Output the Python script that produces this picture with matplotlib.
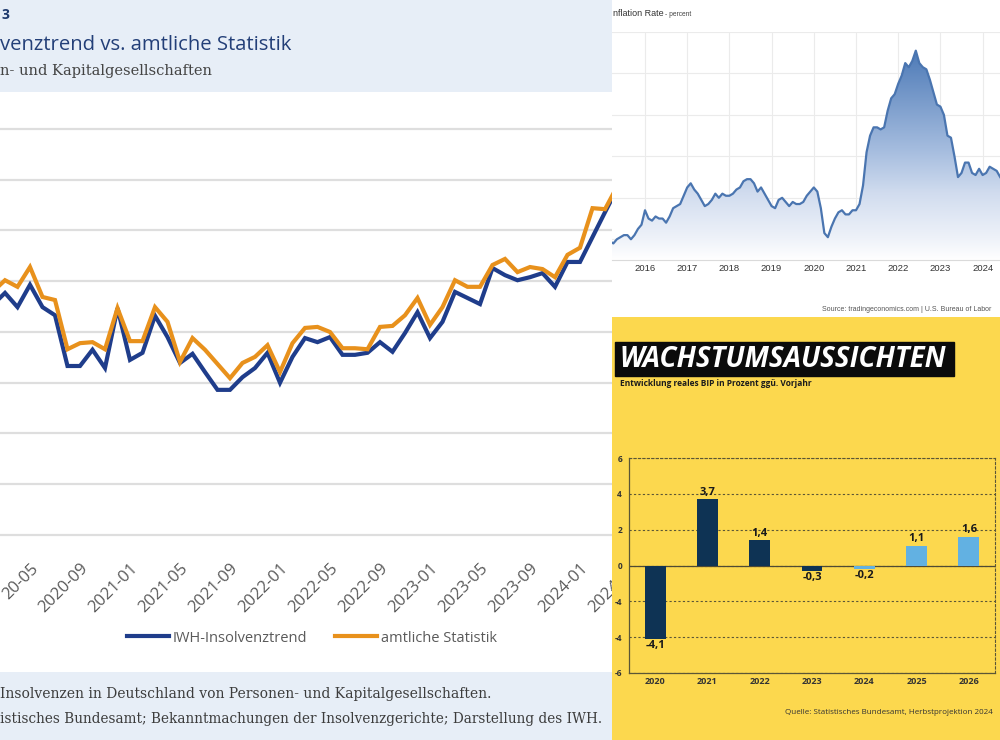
import numpy as np
import matplotlib
matplotlib.use('Agg')
import matplotlib.pyplot as plt
from matplotlib.patches import Rectangle
from matplotlib.colors import LinearSegmentedColormap

plt.rcParams['font.family'] = ['Open Sans', 'DejaVu Sans']

W, H = 1000, 740


def px_box(x0, y0, x1, y1):
    # Pixelbox (oben links = 0,0) -> Figure-Koordinaten
    return [x0 / W, 1 - y1 / H, (x1 - x0) / W, (y1 - y0) / H]


def fx(x):
    return x / W


def fy(y):
    return 1 - y / H


# IWH-Insolvenztrend vs. amtliche Statistik (Monat 1 = 2020-02)
iwh_monate = np.arange(1, 52)
iwh_trend = [853, 877, 849, 893, 849, 833, 733, 733, 765, 729, 847, 745, 759,
             832, 790, 739, 757, 721, 686, 686, 711, 729, 759, 700, 751, 788,
             780, 790, 755, 755, 759, 780, 761, 798, 839, 788, 820, 879, 867,
             855, 926, 912, 902, 908, 916, 889, 938, 938, 987, 1036, 1084]
amtlich = [879, 902, 889, 928, 869, 863, 766, 778, 780, 766, 847, 782, 782,
           849, 820, 741, 788, 765, 737, 709, 739, 751, 774, 721, 778, 808,
           810, 800, 768, 768, 766, 810, 812, 833, 867, 814, 849, 902, 889,
           889, 932, 944, 918, 928, 924, 908, 952, 966, 1044, 1042, 1088]
iwh_ticks = np.arange(4, 53, 4)
iwh_ticklabels = ['20-05', '2020-09', '2021-01', '2021-05', '2021-09',
                  '2022-01', '2022-05', '2022-09', '2023-01', '2023-05',
                  '2023-09', '2024-01', '2024-05']

# US Inflation Rate (monatlich ab 2015-01)
infl = [-0.1, 0.0, -0.1, -0.2, 0.0, 0.1, 0.2, 0.2, 0.0, 0.2, 0.5, 0.7,
        1.4, 1.0, 0.9, 1.1, 1.0, 1.0, 0.8, 1.1, 1.5, 1.6, 1.7, 2.1,
        2.5, 2.7, 2.4, 2.2, 1.9, 1.6, 1.7, 1.9, 2.2, 2.0, 2.2, 2.1,
        2.1, 2.2, 2.4, 2.5, 2.8, 2.9, 2.9, 2.7, 2.3, 2.5, 2.2, 1.9,
        1.6, 1.5, 1.9, 2.0, 1.8, 1.6, 1.8, 1.7, 1.7, 1.8, 2.1, 2.3,
        2.5, 2.3, 1.5, 0.3, 0.1, 0.6, 1.0, 1.3, 1.4, 1.2, 1.2, 1.4,
        1.4, 1.7, 2.6, 4.2, 5.0, 5.4, 5.4, 5.3, 5.4, 6.2, 6.8, 7.0,
        7.5, 7.9, 8.5, 8.3, 8.6, 9.1, 8.5, 8.3, 8.2, 7.7, 7.1, 6.5,
        6.4, 6.0, 5.0, 4.9, 4.0, 3.0, 3.2, 3.7, 3.7, 3.2, 3.1, 3.4,
        3.1, 3.2, 3.5, 3.4, 3.3, 3.0]
infl_zeit = 2015 + np.arange(len(infl)) / 12
infl_jahre = np.arange(2016, 2025)

# Wachstumsaussichten
bip_jahre = ['2020', '2021', '2022', '2023', '2024', '2025', '2026']
bip = [-4.1, 3.7, 1.4, -0.3, -0.2, 1.1, 1.6]
bip_yticks = [-6, -4, -2, 0, 2, 4, 6]
bip_yticklabels = ['-6', '-4', '-4', '0', '2', '4', '6']

fig = plt.figure(figsize=(10, 7.4), dpi=100)
fig.patch.set_facecolor('white')


def panel(x0, y0, x1, y1, color, z):
    ax = fig.add_axes(px_box(x0, y0, x1, y1), zorder=z)
    ax.set_facecolor(color)
    ax.set_xticks([])
    ax.set_yticks([])
    for s in ax.spines.values():
        s.set_visible(False)
    return ax


# ---------------- linkes Bild: IWH ----------------
ax1 = fig.add_axes(px_box(-30, 92, 650, 545), zorder=1)
ax1.set_xlim(-0.8, 53.6)
ax1.set_ylim(400 - 10 * 1.9704, 400 + 443 * 1.9704)
ax1.plot(iwh_monate, iwh_trend, color='#1f3d8b', lw=3, label='IWH-Insolvenztrend',
         solid_joinstyle='miter')
ax1.plot(iwh_monate, amtlich, color='#e8911c', lw=3, label='amtliche Statistik',
         solid_joinstyle='miter')
ax1.set_yticks(np.arange(400, 1300, 100))
ax1.yaxis.grid(True, color='#dedede', lw=1.6)
ax1.set_axisbelow(True)
for s in ax1.spines.values():
    s.set_visible(False)
ax1.tick_params(axis='y', left=False, labelleft=False)
ax1.set_xticks(iwh_ticks)
ax1.set_xticklabels(iwh_ticklabels)
ax1.tick_params(axis='x', length=0, pad=11, labelsize=12, labelcolor='#5a5a5a')
for lbl in ax1.get_xticklabels():
    lbl.set_rotation(45)
    lbl.set_ha('right')
    lbl.set_va('top')
    lbl.set_rotation_mode('anchor')

h, l = ax1.get_legend_handles_labels()
leg = fig.legend(h, l, loc='center', bbox_to_anchor=(fx(312), fy(638)), ncol=2,
                 frameon=False, fontsize=10.5, handlelength=2.9, handletextpad=0.25,
                 columnspacing=1.9)
for t in leg.get_texts():
    t.set_color('#5a5a5a')

kopf = panel(0, 0, 612, 92, '#e7eef7', 2)
fuss = panel(0, 672, 612, 740, '#e7eef7', 2)
fig.text(fx(1), fy(15), '3', color='#1f3a6e', fontsize=10, fontweight='bold',
         va='center', zorder=10)
fig.text(fx(0), fy(45), 'venztrend vs. amtliche Statistik', color='#233f78',
         fontsize=14.6, va='center', zorder=10)
fig.text(fx(0), fy(71), 'n- und Kapitalgesellschaften', color='#444444',
         family='DejaVu Serif', fontsize=10.5, va='center', zorder=10)
fig.text(fx(0), fy(694), 'Insolvenzen in Deutschland von Personen- und Kapitalgesellschaften.',
         color='#3c3c3c', family='DejaVu Serif', fontsize=10, va='center', zorder=10)
fig.text(fx(0), fy(719),
         'istisches Bundesamt; Bekanntmachungen der Insolvenzgerichte; Darstellung des IWH.',
         color='#3c3c3c', family='DejaVu Serif', fontsize=9.85, va='center', zorder=4)

# ---------------- rechts oben: Inflation ----------------
panel(612, 0, 1000, 318, 'white', 5)
ax2 = fig.add_axes(px_box(612, 32, 1000, 260), zorder=6)
ax2.set_facecolor('none')
x0, x1 = 2015.218, 2024.412
fill = ax2.fill_between(infl_zeit, infl, -1, color='none', lw=0)
cmap = LinearSegmentedColormap.from_list(
    'te', [(0.0, '#ffffff'), (0.1, '#eef2f9'), (0.3, '#d2ddef'),
           (0.5, '#a6bddf'), (1.0, '#4675b4')])
grad = np.linspace(0, 1, 256).reshape(-1, 1)
img = ax2.imshow(grad, extent=[x0, x1, -1, 9.5], origin='lower', aspect='auto',
                 cmap=cmap, zorder=1)
img.set_clip_path(fill.get_paths()[0], transform=ax2.transData)
ax2.plot(infl_zeit, infl, color='#4a75b0', lw=1.6, zorder=3)
ax2.set_xlim(x0, x1)
ax2.set_ylim(-1, 10)
ax2.set_xticks(infl_jahre)
ax2.set_yticks(np.arange(0, 11, 2))
ax2.grid(True, color='#ebebeb', lw=0.8)
ax2.set_axisbelow(True)
for s in ax2.spines.values():
    s.set_visible(False)
ax2.spines['bottom'].set_visible(True)
ax2.spines['bottom'].set_color('#dadada')
ax2.tick_params(axis='y', left=False, labelleft=False)
ax2.tick_params(axis='x', length=0, pad=3, labelsize=6.8, labelcolor='#333333')
for lbl in ax2.get_xticklabels():
    lbl.set_family(['Liberation Sans', 'DejaVu Sans'])
fig.text(fx(613), fy(13), 'nflation Rate', color='#333333', fontsize=6.5,
         family=['Liberation Sans', 'DejaVu Sans'], va='center', zorder=10)
fig.text(fx(665), fy(14), '- percent', color='#444444', fontsize=4.8,
         family=['Liberation Sans', 'DejaVu Sans'], va='center', zorder=10)
fig.text(fx(822), fy(309), 'Source: tradingeconomics.com | U.S. Bureau of Labor',
         color='#555555', fontsize=5, family=['Liberation Sans', 'DejaVu Sans'],
         va='center', zorder=10)

# ---------------- rechts unten: Wachstumsaussichten ----------------
panel(612, 317, 1000, 740, '#fcd84e', 5)
fig.patches.append(Rectangle((fx(615), fy(376)), (954 - 615) / W, (376 - 342) / H,
                             transform=fig.transFigure, color='#0b0b0b', zorder=8))
fig.text(fx(619), fy(359), 'WACHSTUMSAUSSICHTEN', color='white', fontsize=20,
         fontweight='bold', fontstyle='italic', va='center', zorder=11)
fig.text(fx(620), fy(383), 'Entwicklung reales BIP in Prozent ggü. Vorjahr',
         color='#1c1c1c', fontsize=6, fontweight='bold', va='center', zorder=11)

ax3 = fig.add_axes(px_box(629, 458, 995, 673), zorder=7)
ax3.set_facecolor('none')
farben = ['#0e3354'] * 4 + ['#62b1e2'] * 3
balken = ax3.bar(range(len(bip)), bip, width=0.4, color=farben, zorder=3)
for i, v in enumerate(bip):
    txt = f'{v:.1f}'.replace('.', ',')
    ax3.annotate(txt, (i, v), xytext=(0, 1 if v > 0 else -1), textcoords='offset points',
                 ha='center', va='bottom' if v > 0 else 'top', fontsize=8,
                 fontweight='bold', color='#1a1a1a')
ax3.set_xlim(-0.5, len(bip) - 0.5)
ax3.set_ylim(-6, 6)
ax3.set_yticks(bip_yticks)
ax3.set_yticklabels(bip_yticklabels)
ax3.set_xticks(range(len(bip)))
ax3.set_xticklabels(bip_jahre)
ax3.yaxis.grid(True, linestyle=(0, (2, 2)), color='#5b5636', lw=0.8)
ax3.axhline(0, color='#4f4a33', lw=0.9, zorder=2)
for k in ['left', 'bottom']:
    ax3.spines[k].set_color('#5b5636')
    ax3.spines[k].set_linewidth(0.9)
for k in ['top', 'right']:
    ax3.spines[k].set_color('#5b5636')
    ax3.spines[k].set_linewidth(0.8)
    ax3.spines[k].set_linestyle((0, (2, 2)))
ax3.tick_params(axis='y', length=0, pad=5, labelsize=6, labelcolor='#333333')
ax3.tick_params(axis='x', length=0, pad=3, labelsize=6.5, labelcolor='#333333')
for lbl in ax3.get_xticklabels() + ax3.get_yticklabels():
    lbl.set_fontweight('bold')
fig.text(fx(993), fy(713), 'Quelle: Statistisches Bundesamt, Herbstprojektion 2024',
         color='#333333', fontsize=5.8, ha='right', va='center', zorder=11)

fig.savefig('out.png', dpi=100)
